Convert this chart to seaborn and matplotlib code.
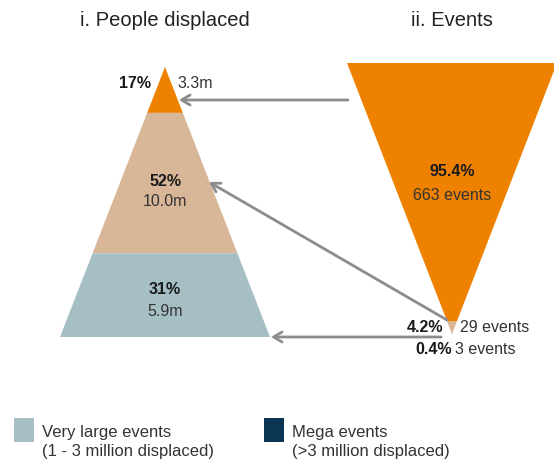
import seaborn as sns
import matplotlib.pyplot as plt
from matplotlib.patches import Polygon, Rectangle

# data
categories = ["Mega events", "Very large events", "Large events"]
people_share = [17, 52, 31]          # % of people displaced (top -> bottom)
people_value = ["3.3m", "10.0m", "5.9m"]
event_share = [95.4, 4.2, 0.4]       # % of events (top -> tip)
event_count = [663, 29, 3]
legend_labels = ["Very large events\n(1 - 3 million displaced)",
                 "Mega events\n(>3 million displaced)"]

orange = "#ee8100"
tan = "#d8b799"
bluegrey = "#a6bfc4"
navy = "#0b3553"
arrow_c = "#8c8c8c"

sns.set_theme(style="white")
plt.rcParams['font.family'] = ['Liberation Sans', 'DejaVu Sans']

fig = plt.figure(figsize=(5.54, 4.63), dpi=100)
ax = fig.add_axes([0, 0, 1, 1])
ax.set_xlim(0, 554)
ax.set_ylim(463, 0)
ax.axis("off")

# pyramid (people displaced)
px, ptop, pbot, phw = 165, 67, 337, 105
ph = pbot - ptop
pcols = [orange, tan, bluegrey]
y0 = ptop
for share, col in zip(people_share, pcols):
    y1 = y0 + ph * share / 100
    w0 = phw * (y0 - ptop) / ph
    w1 = phw * (y1 - ptop) / ph
    ax.add_patch(Polygon([(px - w0, y0), (px + w0, y0), (px + w1, y1), (px - w1, y1)],
                         closed=True, color=col, lw=0))
    y0 = y1

# inverted triangle (events)
ex, etop, ebot, ehw = 452, 63, 334, 105
eh = ebot - etop
ecols = [orange, tan, navy]
y0 = etop
for share, col in zip(event_share, ecols):
    y1 = y0 + eh * share / 100
    w0 = ehw * (ebot - y0) / eh
    w1 = ehw * (ebot - y1) / eh
    ax.add_patch(Polygon([(ex - w0, y0), (ex + w0, y0), (ex + w1, y1), (ex - w1, y1)],
                         closed=True, color=col, lw=0))
    y0 = y1

# titles
ax.text(px, 21, "i. People displaced", ha="center", va="center", fontsize=14.5, color="#222222")
ax.text(ex, 21, "ii. Events", ha="center", va="center", fontsize=14.5, color="#222222")

fs = 11.5
tc = "#1a1a1a"
vc = "#333333"
# pyramid labels
ax.text(151, 83, f"{people_share[0]}%", ha="right", va="center", fontsize=fs, fontweight="bold", color=tc)
ax.text(177, 83, people_value[0], ha="left", va="center", fontsize=fs, color=vc)
for ly, s, v in zip([181, 290], people_share[1:], people_value[1:]):
    ax.text(px, ly, f"{s}%", ha="center", va="center", fontsize=fs, fontweight="bold", color=tc)
    ax.text(px, ly + 21, v, ha="center", va="center", fontsize=fs, color=vc)

# event labels
ax.text(ex, 172, f"{event_share[0]}%", ha="center", va="center", fontsize=fs, fontweight="bold", color=tc)
ax.text(ex, 195, f"{event_count[0]} events", ha="center", va="center", fontsize=fs, color=vc)
ax.text(443, 327, f"{event_share[1]}%", ha="right", va="center", fontsize=fs, fontweight="bold", color=tc)
ax.text(460, 327, f"{event_count[1]} events", ha="left", va="center", fontsize=fs, color=vc)
ax.text(452, 350, f"{event_share[2]}%", ha="right", va="center", fontsize=fs, fontweight="bold", color=tc)
ax.text(455, 350, f"{event_count[2]} events", ha="left", va="center", fontsize=fs, color=vc)

# arrows
arrows = [((348, 100), (179, 100)), ((447, 320), (209, 182)), ((441, 337), (271, 337))]
for start, end in arrows:
    ax.annotate("", xy=end, xytext=start,
                arrowprops=dict(arrowstyle="->,head_length=0.5,head_width=0.3",
                                color=arrow_c, lw=2, shrinkA=0, shrinkB=0))

# legend
for lx, col, lab in zip([14, 264], [bluegrey, navy], legend_labels):
    ax.add_patch(Rectangle((lx, 418), 20, 24, color=col, lw=0))
    ax.text(lx + 28, 442, lab, ha="left", va="center", fontsize=12, color=vc, linespacing=1.4)

plt.savefig("out.png", dpi=100)
